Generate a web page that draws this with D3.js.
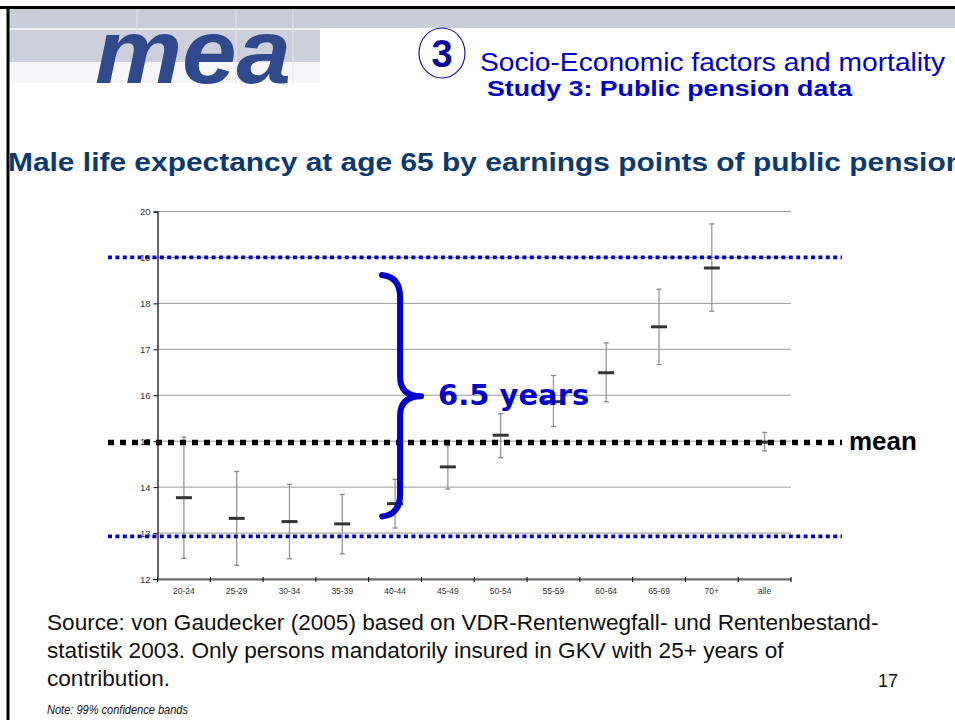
<!DOCTYPE html>
<html><head><meta charset="utf-8">
<script src="https://cdn.jsdelivr.net/npm/d3@7"></script>
<style>body{margin:0;background:#fff}svg{display:block}</style>
</head><body>
<svg id="c" width="955" height="720"></svg>
<script>
const categories = ["20-24","25-29","30-34","35-39","40-44","45-49","50-54","55-59","60-64","65-69","70+","alle"];
const meanValues = [13.77,13.32,13.25,13.20,13.64,14.44,15.13,15.86,16.49,17.49,18.77,14.98];
const lowerValues = [12.45,12.30,12.44,12.55,13.11,13.96,14.64,15.32,15.86,16.67,17.83,14.79];
const upperValues = [15.09,14.34,14.06,13.84,14.17,14.90,15.60,16.43,17.14,18.31,19.73,15.19];
const yTicks = [12,13,14,15,16,17,18,19,20];
const refTop = [19.0];
const refBottom = [12.93];
const refMean = [14.97];
const braceValues = [18.62, 15.98, 13.36];
const braceLabel = "6.5 years";

const svg = d3.select("#c");
const pLeft = 157.5, pRight = 791, pTop = 211.5, pBottom = 579;
const y = d3.scaleLinear().domain([12,20]).range([pBottom, pTop]);
const x = d3.scaleBand().domain(categories).range([pLeft, pRight]);
const SANS = "Liberation Sans, Arial, sans-serif";

// header
svg.append("rect").attr("x",9).attr("y",9).attr("width",946).attr("height",19).attr("fill","#c9ccd9");
svg.append("rect").attr("x",9).attr("y",30).attr("width",311).attr("height",32).attr("fill","#cdd0dc");
svg.append("rect").attr("x",9).attr("y",62).attr("width",311).attr("height",21).attr("fill","#f6f6f8");
[137,236,293].forEach(v=>svg.append("line").attr("x1",v).attr("x2",v).attr("y1",9).attr("y2",83).attr("stroke","#e4e6ee").attr("stroke-width",1));
svg.append("line").attr("x1",9).attr("x2",320).attr("y1",29).attr("y2",29).attr("stroke","#e4e6ee");
svg.append("line").attr("x1",0).attr("x2",955).attr("y1",7.5).attr("y2",7.5).attr("stroke","#000").attr("stroke-width",3);
svg.append("line").attr("x1",8).attr("x2",8).attr("y1",6).attr("y2",720).attr("stroke","#000").attr("stroke-width",3);

svg.append("text").attr("x",95).attr("y",83).attr("font-family",SANS)
  .attr("font-weight","bold").attr("font-style","italic").attr("font-size",91)
  .attr("textLength",196).attr("lengthAdjust","spacingAndGlyphs")
  .attr("fill","#2f4a8c").text("mea");

svg.append("ellipse").attr("cx",442).attr("cy",53).attr("rx",23).attr("ry",25).attr("fill","none").attr("stroke","#1a1aa8").attr("stroke-width",1.2);
svg.append("text").attr("x",442).attr("y",67).attr("text-anchor","middle").attr("font-family",SANS)
  .attr("font-weight","bold").attr("font-size",38).attr("fill","#0a0a9a").text("3");
svg.append("text").attr("x",480).attr("y",71).attr("font-family",SANS)
  .attr("font-size",26).attr("fill","#0000cc").attr("textLength",465).attr("lengthAdjust","spacingAndGlyphs")
  .text("Socio-Economic factors and mortality");
svg.append("text").attr("x",487).attr("y",96).attr("font-family",SANS)
  .attr("font-weight","bold").attr("font-size",22).attr("fill","#0000cc").attr("textLength",365).attr("lengthAdjust","spacingAndGlyphs")
  .text("Study 3: Public pension data");

svg.append("text").attr("x",8).attr("y",171).attr("font-family",SANS)
  .attr("font-weight","bold").attr("font-size",26).attr("fill","#0d3a6e").attr("textLength",956).attr("lengthAdjust","spacingAndGlyphs")
  .text("Male life expectancy at age 65 by earnings points of public pension");

// grid
svg.append("g").selectAll("line").data(yTicks).join("line")
  .attr("x1",pLeft).attr("x2",pRight).attr("y1",d=>y(d)).attr("y2",d=>y(d))
  .attr("stroke","#999").attr("stroke-width",1);

// y axis
const yAxis = svg.append("g").attr("transform",`translate(${pLeft},0)`)
  .call(d3.axisLeft(y).tickValues(yTicks).tickSize(4).tickFormat(d3.format("d")));
yAxis.select(".domain").attr("stroke","#000").attr("stroke-width",1.2);
yAxis.selectAll(".tick line").attr("stroke","#000");
yAxis.selectAll("text").attr("font-family",SANS).attr("font-size",9.5).attr("fill","#333");

// x axis
const xAxis = svg.append("g").attr("transform",`translate(0,${pBottom})`)
  .call(d3.axisBottom(x).tickSize(0).tickPadding(9));
xAxis.select(".domain").attr("stroke","#666").attr("stroke-width",2);
xAxis.selectAll("text").attr("font-family",SANS).attr("font-size",8.5).attr("fill","#333");
const bounds = categories.map(c=>x(c)).concat([pRight]);
svg.append("g").selectAll("line").data(bounds).join("line")
  .attr("x1",d=>d).attr("x2",d=>d).attr("y1",pBottom-2).attr("y2",pBottom+3)
  .attr("stroke","#000").attr("stroke-width",1);

function refLine(vals, color, w, dash){
  svg.append("g").selectAll("line").data(vals).join("line")
    .attr("x1",108).attr("x2",842).attr("y1",d=>y(d)).attr("y2",d=>y(d))
    .attr("stroke",color).attr("stroke-width",w).attr("stroke-dasharray",dash);
}

// error bars
const data = categories.map((c,i)=>({c, m:meanValues[i], lo:lowerValues[i], hi:upperValues[i]}));
const g = svg.append("g");
const cx = d => x(d.c) + x.bandwidth()/2;
g.selectAll(".eb").data(data).join("line").attr("class","eb")
  .attr("x1",cx).attr("x2",cx).attr("y1",d=>y(d.lo)).attr("y2",d=>y(d.hi))
  .attr("stroke","#999").attr("stroke-width",1.3);
["lo","hi"].forEach(k=>{
  g.selectAll(".cap"+k).data(data).join("line").attr("class","cap"+k)
   .attr("x1",d=>cx(d)-2.5).attr("x2",d=>cx(d)+2.5).attr("y1",d=>y(d[k])).attr("y2",d=>y(d[k]))
   .attr("stroke","#888").attr("stroke-width",1.3);
});

refLine(refTop, "#0000cc", 3.7, "4 3.4");
refLine(refBottom, "#0000cc", 3.7, "4 3.4");
refLine(refMean, "#000", 5.5, "6 6");

g.selectAll(".mk").data(data).join("line").attr("class","mk")
  .attr("x1",d=>cx(d)-8).attr("x2",d=>cx(d)+8).attr("y1",d=>y(d.m)).attr("y2",d=>y(d.m))
  .attr("stroke","#333").attr("stroke-width",3);

svg.append("text").attr("x",849).attr("y",450).attr("font-family",SANS)
  .attr("font-weight","bold").attr("font-size",26).attr("fill","#000").text("mean");

// brace
const bx = x("40-44") + x.bandwidth()/2 + 5;
const yT = y(braceValues[0]), yM = y(braceValues[1]), yB = y(braceValues[2]);
const p = d3.path();
p.moveTo(bx-18, yT);
p.quadraticCurveTo(bx, yT+2, bx, yT+22);
p.lineTo(bx, yM-20);
p.quadraticCurveTo(bx, yM, bx+21, yM);
p.quadraticCurveTo(bx, yM, bx, yM+20);
p.lineTo(bx, yB-22);
p.quadraticCurveTo(bx, yB-2, bx-18, yB);
svg.append("path").attr("d",p.toString()).attr("fill","none").attr("stroke","#0000cc")
  .attr("stroke-width",6).attr("stroke-linecap","round").attr("stroke-linejoin","round");
svg.append("text").attr("x",bx+38).attr("y",yM+9).attr("font-family","DejaVu Sans, Verdana, sans-serif")
  .attr("font-weight","bold").attr("font-size",29).attr("fill","#0000cc").text(braceLabel);

// footer
const foot = ["Source: von Gaudecker (2005) based on VDR-Rentenwegfall- und Rentenbestand-",
  "statistik 2003. Only persons mandatorily insured in GKV with 25+ years of",
  "contribution."];
svg.append("g").selectAll("text").data(foot).join("text")
  .attr("x",47).attr("y",(d,i)=>630+i*28).attr("font-family",SANS)
  .attr("font-size",22.6).attr("fill","#111").text(d=>d);
svg.append("text").attr("x",878).attr("y",687).attr("font-family",SANS)
  .attr("font-size",18).attr("fill","#111").text("17");
svg.append("text").attr("x",47).attr("y",714).attr("font-family",SANS)
  .attr("font-style","italic").attr("font-size",12.5).attr("fill","#111")
  .attr("textLength",141).attr("lengthAdjust","spacingAndGlyphs").text("Note: 99% confidence bands");
</script>
</body></html>
